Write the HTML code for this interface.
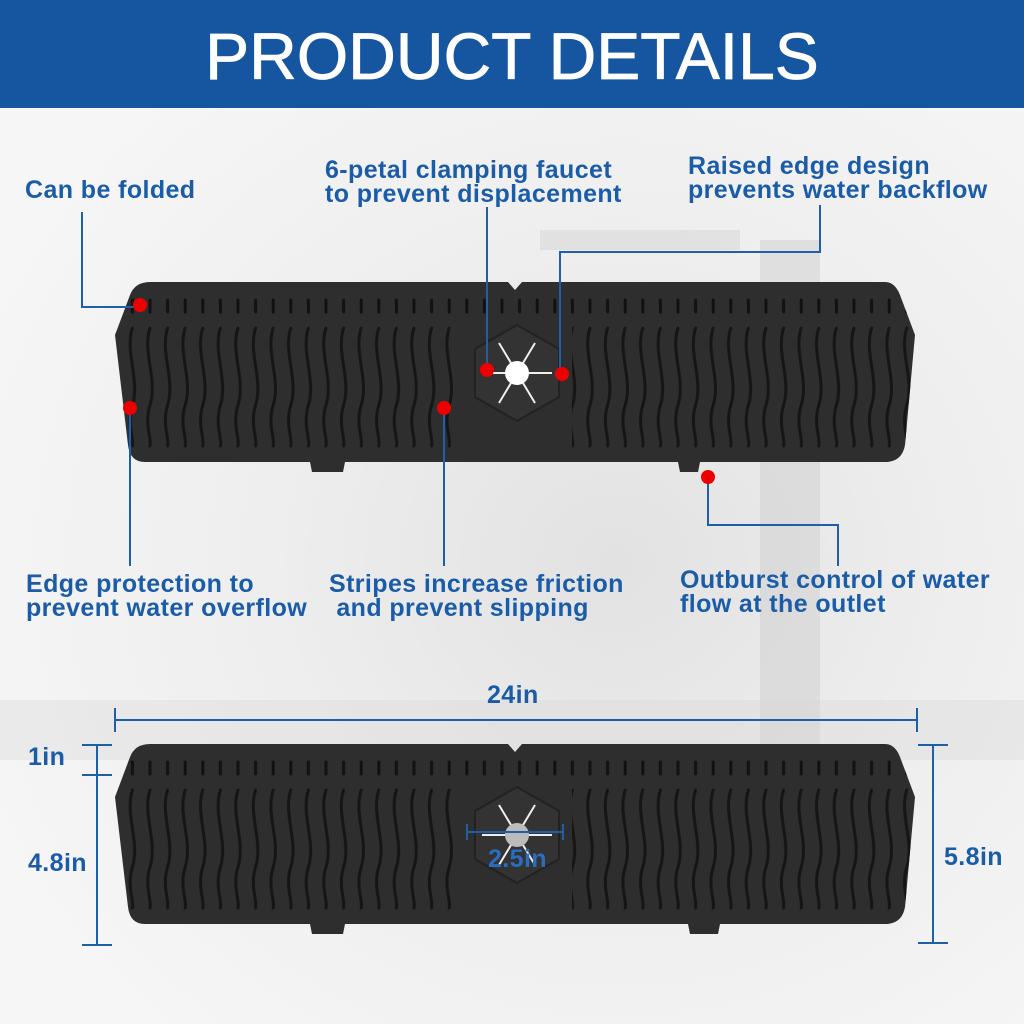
<!DOCTYPE html>
<html><head><meta charset="utf-8"><style>
html,body{margin:0;padding:0;width:1024px;height:1024px;overflow:hidden;}
body{background:radial-gradient(ellipse at 60% 55%,#e2e2e2 0%,#eeeeee 40%,#f6f6f6 80%);position:relative;font-family:"Liberation Sans",sans-serif;}
.hdr{position:absolute;left:0;top:0;width:1024px;height:108px;background:#1656a0;color:#fff;font-size:66px;text-align:center;line-height:112px;letter-spacing:0px;font-weight:500;-webkit-text-stroke:0.8px #fff;}
.lb{position:absolute;color:#1b5ca8;font-weight:bold;font-size:25px;line-height:24px;white-space:nowrap;letter-spacing:0.4px;}
svg{position:absolute;left:0;top:0;}
</style></head><body>
<svg width="1024" height="1024" viewBox="0 0 1024 1024">
<defs>
<pattern id="p1" patternUnits="userSpaceOnUse" x="142" y="0" width="17.6" height="1024">
<line x1="8" y1="300" x2="8" y2="312" stroke="#111" stroke-width="3" stroke-linecap="round"/>
<path d="M8,328 C0,352 16,380 8,405 C2,425 10,438 8,446" fill="none" stroke="#151515" stroke-width="3" stroke-linecap="round"/>
<line x1="8" y1="762" x2="8" y2="774" stroke="#111" stroke-width="3" stroke-linecap="round"/>
<path d="M8,790 C0,814 16,842 8,867 C2,887 10,900 8,908" fill="none" stroke="#151515" stroke-width="3" stroke-linecap="round"/>
</pattern>
</defs>
<rect x="540" y="230" width="200" height="20" fill="#d8d8d8" opacity=".6"/>
<rect x="760" y="240" width="60" height="560" fill="#cdcdcd" opacity=".45"/>
<rect x="0" y="700" width="1024" height="60" fill="#d6d6d6" opacity=".35"/>
<path d="M150,282 L508,282 L515,290 L522,282 L885,282 Q895,282 900,295 L915,335 L905,445 Q902,462 885,462 L700,462 L698,472 L680,472 L678,462 L345,462 L343,472 L312,472 L310,462 L145,462 Q130,462 128,445 L115,335 L130,295 Q135,282 150,282 Z" fill="#2e2e2e"/>
<path d="M150,282 L508,282 L515,290 L522,282 L885,282 Q895,282 900,295 L915,335 L905,445 Q902,462 885,462 L145,462 Q130,462 128,445 L115,335 L130,295 Q135,282 150,282 Z" fill="url(#p1)"/>
<rect x="462" y="322" width="110" height="128" fill="#2e2e2e"/>
<polygon points="517,325 559,349 559,397 517,421 475,397 475,349" fill="#333" stroke="#222" stroke-width="2"/>
<g stroke="#eee" stroke-width="2"><line x1="482" y1="373" x2="552" y2="373"/><line x1="499" y1="343" x2="535" y2="403"/><line x1="535" y1="343" x2="499" y2="403"/></g>
<circle cx="517" cy="373" r="12" fill="#fff"/>
<path d="M150,744 L508,744 L515,752 L522,744 L885,744 Q895,744 900,757 L915,797 L905,907 Q902,924 885,924 L720,924 L718,934 L690,934 L688,924 L345,924 L343,934 L312,934 L310,924 L145,924 Q130,924 128,907 L115,797 L130,757 Q135,744 150,744 Z" fill="#2e2e2e"/>
<path d="M150,744 L508,744 L515,752 L522,744 L885,744 Q895,744 900,757 L915,797 L905,907 Q902,924 885,924 L145,924 Q130,924 128,907 L115,797 L130,757 Q135,744 150,744 Z" fill="url(#p1)"/>
<rect x="462" y="784" width="110" height="128" fill="#2e2e2e"/>
<polygon points="517,787 559,811 559,859 517,883 475,859 475,811" fill="#333" stroke="#222" stroke-width="2"/>
<g stroke="#eee" stroke-width="2"><line x1="482" y1="835" x2="552" y2="835"/><line x1="499" y1="805" x2="535" y2="865"/><line x1="535" y1="805" x2="499" y2="865"/></g>
<circle cx="517" cy="835" r="12" fill="#bbb"/>
<g stroke="#1f5fa8" stroke-width="2" fill="none">
<polyline points="82,212 82,307 140,307"/>
<line x1="487" y1="207" x2="487" y2="370"/>
<polyline points="820,205 820,252 560,252 560,374"/>
<line x1="130" y1="408" x2="130" y2="566"/>
<line x1="444" y1="408" x2="444" y2="566"/>
<polyline points="708,477 708,525 838,525 838,566"/>
<line x1="115" y1="720" x2="917" y2="720"/><line x1="115" y1="708" x2="115" y2="732"/><line x1="917" y1="708" x2="917" y2="732"/>
<line x1="97" y1="745" x2="97" y2="945"/><line x1="82" y1="745" x2="112" y2="745"/><line x1="82" y1="775" x2="112" y2="775"/><line x1="82" y1="945" x2="112" y2="945"/>
<line x1="933" y1="745" x2="933" y2="943"/><line x1="918" y1="745" x2="948" y2="745"/><line x1="918" y1="943" x2="948" y2="943"/>
<line x1="467" y1="832" x2="563" y2="832"/><line x1="467" y1="824" x2="467" y2="840"/><line x1="563" y1="824" x2="563" y2="840"/>
</g>
<g fill="#e00">
<circle cx="140" cy="305" r="7"/><circle cx="130" cy="408" r="7"/><circle cx="487" cy="370" r="7"/><circle cx="562" cy="374" r="7"/><circle cx="444" cy="408" r="7"/><circle cx="708" cy="477" r="7"/>
</g>
</svg>
<div class="hdr">PRODUCT DETAILS</div>
<div class="lb" style="left:25px;top:178px">Can be folded</div>
<div class="lb" style="left:325px;top:158px">6-petal clamping faucet<br>to prevent displacement</div>
<div class="lb" style="left:688px;top:154px">Raised edge design<br>prevents water backflow</div>
<div class="lb" style="left:26px;top:572px">Edge protection to<br>prevent water overflow</div>
<div class="lb" style="left:329px;top:572px">Stripes increase friction<br>&nbsp;and prevent slipping</div>
<div class="lb" style="left:680px;top:568px">Outburst control of water<br>flow at the outlet</div>
<div class="lb" style="left:487px;top:683px">24in</div>
<div class="lb" style="left:28px;top:745px">1in</div>
<div class="lb" style="left:28px;top:851px">4.8in</div>
<div class="lb" style="left:944px;top:845px">5.8in</div>
<div class="lb" style="left:488px;top:847px;color:#2a6cc0">2.5in</div>
</body></html>
